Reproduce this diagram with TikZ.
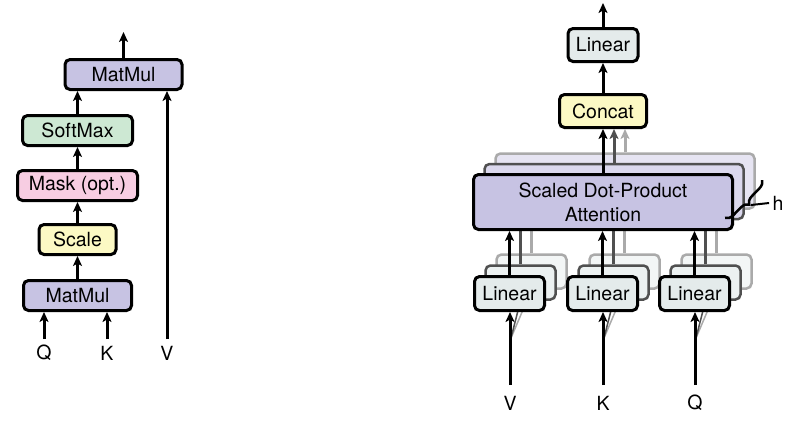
\documentclass[tikz,border=0pt]{standalone}
\usepackage{fontspec}
\setmainfont{TeX Gyre Heros}
\usepackage{xcolor}
\usetikzlibrary{
    calc,
    positioning,
    arrows.meta,
    decorations.pathreplacing
}

\definecolor{matPurple}{RGB}{199,195,227}
\definecolor{softGreen}{RGB}{205,232,211}
\definecolor{maskPink}{RGB}{247,205,226}
\definecolor{scaleYellow}{RGB}{252,249,196}
\definecolor{linGray}{RGB}{228,235,235}
\definecolor{copyDark}{RGB}{80,80,80}
\definecolor{copyLight}{RGB}{170,170,170}

\begin{document}
\begin{tikzpicture}[x=1pt, y=-1pt, font=\fontsize{19.5}{24}\selectfont]
  \useasboundingbox (0,0) rectangle (786,432);

  % Define box and arrow styles:
  \tikzset{
    block/.style={draw=black, line width=3pt, rounded corners=5pt, inner sep=2pt, align=center},
    flow/.style={-{Stealth[length=10pt, width=9pt, inset=2.5pt]}, line width=3pt},
    linbox/.style={block, fill=linGray, minimum width=70pt, minimum height=34pt},
    sdpabox/.style={block, fill=matPurple, minimum width=259pt, minimum height=55pt},
    copytwo/.style={draw=copyDark, line width=2.5pt},
    copythree/.style={draw=copyLight, line width=2.5pt}
  };

  % ---------- Left: scaled dot-product attention ----------
  \node[block, fill=matPurple, minimum width=117pt, minimum height=30pt] (MatMul_top) at (123.5,74.5) {MatMul};
  \node[block, fill=softGreen, minimum width=110pt, minimum height=30pt] (SoftMax) at (77.5,130.5) {SoftMax};
  \node[block, fill=maskPink, minimum width=120pt, minimum height=30pt] (Mask) at (77.5,185.5) {Mask (opt.)};
  \node[block, fill=scaleYellow, minimum width=77pt, minimum height=30pt] (Scale) at (77.5,239.5) {Scale};
  \node[block, fill=matPurple, minimum width=108pt, minimum height=30pt] (MatMul_bot) at (77.5,295.5) {MatMul};

  % Inputs
  \node (Q_left) at (44,353) {Q};
  \node (K_left) at (107,353) {K};
  \node (V_left) at (167,353) {V};
  \coordinate (Q_left_in) at (44,339);
  \coordinate (K_left_in) at (107,339);
  \coordinate (V_left_in) at (167,339);
  \coordinate (left_out) at ($(MatMul_top.north)+(0,-26)$);

  \draw[flow] (Q_left_in) -- (Q_left_in |- MatMul_bot.south);
  \draw[flow] (K_left_in) -- (K_left_in |- MatMul_bot.south);
  \draw[flow] (V_left_in) -- (V_left_in |- MatMul_top.south);
  \draw[flow] (MatMul_bot) -- (Scale);
  \draw[flow] (Scale) -- (Mask);
  \draw[flow] (Mask) -- (SoftMax);
  \draw[flow] (SoftMax.north) -- (SoftMax.north |- MatMul_top.south);
  \draw[flow] (MatMul_top.north) -- (left_out);

  % ---------- Right: multi-head attention ----------
  % Stacked copies behind (h heads)
  \node[sdpabox, copythree, fill=matPurple!45] (SDPA_3) at (625,181) {};
  \node[sdpabox, copytwo, fill=matPurple!65] (SDPA_2) at (614,191.5) {};

  \node[linbox, copythree, fill=linGray!45] (Lin_V_3) at (531.5,271.5) {};
  \node[linbox, copythree, fill=linGray!45] (Lin_K_3) at (624.5,271.5) {};
  \node[linbox, copythree, fill=linGray!45] (Lin_Q_3) at (716.5,271.5) {};
  \node[linbox, copytwo, fill=linGray!70] (Lin_V_2) at (520.5,282.5) {};
  \node[linbox, copytwo, fill=linGray!70] (Lin_K_2) at (613.5,282.5) {};
  \node[linbox, copytwo, fill=linGray!70] (Lin_Q_2) at (705.5,282.5) {};

  % Arrows of the copies (mostly hidden by the front boxes)
  \draw[flow, copyLight] (Lin_V_3.north) -- (Lin_V_3.north |- SDPA_3.south);
  \draw[flow, copyLight] (Lin_K_3.north) -- (Lin_K_3.north |- SDPA_3.south);
  \draw[flow, copyLight] (Lin_Q_3.north) -- (Lin_Q_3.north |- SDPA_3.south);
  \draw[flow, copyDark] (Lin_V_2.north) -- (Lin_V_2.north |- SDPA_2.south);
  \draw[flow, copyDark] (Lin_K_2.north) -- (Lin_K_2.north |- SDPA_2.south);
  \draw[flow, copyDark] (Lin_Q_2.north) -- (Lin_Q_2.north |- SDPA_2.south);

  \coordinate (V_split) at (511,338);
  \coordinate (K_split) at (604,338);
  \coordinate (Q_split) at (696,338);
  \draw[copyLight, line width=1.5pt] (V_split) -- (Lin_V_3.south);
  \draw[copyDark, line width=1.5pt] (V_split) -- (Lin_V_2.south);
  \draw[copyLight, line width=1.5pt] (K_split) -- (Lin_K_3.south);
  \draw[copyDark, line width=1.5pt] (K_split) -- (Lin_K_2.south);
  \draw[copyLight, line width=1.5pt] (Q_split) -- (Lin_Q_3.south);
  \draw[copyDark, line width=1.5pt] (Q_split) -- (Lin_Q_2.south);

  % Front boxes
  \node[sdpabox] (SDPA) at (603,202) {Scaled Dot-Product\\Attention};
  \node[linbox] (Lin_V) at (509.5,293.5) {Linear};
  \node[linbox] (Lin_K) at (602.5,293.5) {Linear};
  \node[linbox] (Lin_Q) at (694.5,293.5) {Linear};
  \node[block, fill=scaleYellow, minimum width=87pt, minimum height=33pt] (Concat) at (603,111) {Concat};
  \node[linbox, minimum height=33pt] (Lin_out) at (603,45) {Linear};

  % Inputs
  \node (V_right) at (510,403) {V};
  \node (K_right) at (603,403) {K};
  \node (Q_right) at (695,403) {Q};
  \coordinate (V_right_in) at (510,385);
  \coordinate (K_right_in) at (603,385);
  \coordinate (Q_right_in) at (695,385);
  \coordinate (right_out) at ($(Lin_out.north)+(0,-24)$);

  \draw[flow] (V_right_in) -- (V_right_in |- Lin_V.south);
  \draw[flow] (K_right_in) -- (K_right_in |- Lin_K.south);
  \draw[flow] (Q_right_in) -- (Q_right_in |- Lin_Q.south);
  \draw[flow] (Lin_V.north) -- (Lin_V.north |- SDPA.south);
  \draw[flow] (Lin_K.north) -- (Lin_K.north |- SDPA.south);
  \draw[flow] (Lin_Q.north) -- (Lin_Q.north |- SDPA.south);

  % Into Concat: front head black, copies in gray
  \draw[flow, copyLight] (SDPA_3.north) -- (SDPA_3.north |- Concat.south);
  \draw[flow, copyDark] (SDPA_2.north) -- (SDPA_2.north |- Concat.south);
  \draw[flow] (SDPA.north) -- (Concat.south);
  \draw[flow] (Concat.north) -- (Lin_out.south);
  \draw[flow] (Lin_out.north) -- (right_out);

  % Brace for the h heads
  \coordinate (brace_top) at (762,180);
  \coordinate (brace_bot) at (725,218);
  \coordinate (h_tip) at (751,205);
  \draw[line width=2.5pt, decorate, decoration={brace, amplitude=8pt}] (brace_top) -- (brace_bot);
  \node (h_label) at (778,203) {h};
  \draw[line width=2pt] (h_tip) -- (h_label.west);
\end{tikzpicture}
\end{document}
